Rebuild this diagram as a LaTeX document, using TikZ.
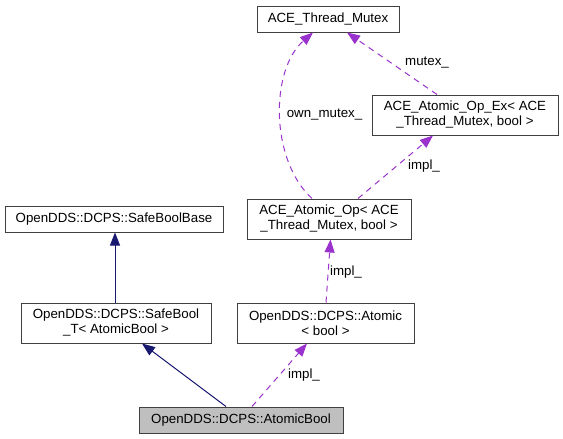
\documentclass[tikz,border=0pt]{standalone}
\usepackage{fontspec}
\setmainfont{Liberation Sans}
\usepackage{tikz}
\usepackage{xcolor}
\usetikzlibrary{arrows.meta}

\definecolor{inhblue}{HTML}{191970}
\definecolor{usepurple}{HTML}{9A32CD}

\tikzset{
  cls/.style={draw=black!75, line width=1pt, inner sep=0pt, align=center,
    font=\fontsize{13.3}{15}\selectfont},
  inh/.style={draw=inhblue, line width=1pt, -{Triangle[length=13pt,width=10pt]}},
  usage/.style={draw=usepurple, line width=1pt, dash pattern=on 6pt off 5pt,
    -{Triangle[length=13pt,width=10pt,fill=usepurple]}},
  lbl/.style={inner sep=0pt, font=\fontsize{13.3}{15}\selectfont}
}

\begin{document}
\begin{tikzpicture}[x=1pt, y=-1pt]
\useasboundingbox (0,0) rectangle (563,439);
\node[cls, minimum width=142pt, minimum height=26pt] (mutex) at (328,19) {ACE\_Thread\_Mutex};
\node[cls, minimum width=186pt, minimum height=40pt] (opex) at (465,115) {ACE\_Atomic\_Op\_Ex< ACE\\\_Thread\_Mutex, bool >};
\node[cls, minimum width=164pt, minimum height=40pt] (op) at (329,219) {ACE\_Atomic\_Op< ACE\\\_Thread\_Mutex, bool >};
\node[cls, minimum width=218pt, minimum height=26pt] (base) at (114,219) {OpenDDS::DCPS::SafeBoolBase};
\node[cls, minimum width=190pt, minimum height=40pt] (safet) at (116,323) {OpenDDS::DCPS::SafeBool\\\_T< AtomicBool >};
\node[cls, minimum width=177pt, minimum height=40pt] (atomic) at (325.5,323) {OpenDDS::DCPS::Atomic\\< bool >};
\node[cls, fill=gray!50, minimum width=204pt, minimum height=26pt] (abool) at (241,420) {OpenDDS::DCPS::AtomicBool};

\draw[inh] ([xshift=-1pt]safet.north) -- ([xshift=1pt]base.south);
\draw[inh] ([xshift=-15pt]abool.north) -- ([xshift=26pt]safet.south);
\draw[usage] ([xshift=11pt]abool.north) -- ([xshift=-18.5pt]atomic.south);
\draw[usage] ([xshift=0.5pt]atomic.north) -- ([xshift=1.5pt]op.south);
\draw[usage] ([xshift=29pt]op.north) -- ([xshift=-32pt]opex.south);
\draw[usage] ([xshift=-28pt]opex.north) -- ([xshift=19pt]mutex.south);
\draw[usage] ([xshift=-17pt]op.north) .. controls (270,160) and (270,70) .. ([xshift=-15pt]mutex.south);

\node[lbl] (l1) at (304,375) {impl\_};
\node[lbl] (l2) at (346,272) {impl\_};
\node[lbl] (l3) at (424,166) {impl\_};
\node[lbl] (l4) at (427,63) {mutex\_};
\node[lbl] (l5) at (324.5,115) {own\_mutex\_};
\end{tikzpicture}
\end{document}
